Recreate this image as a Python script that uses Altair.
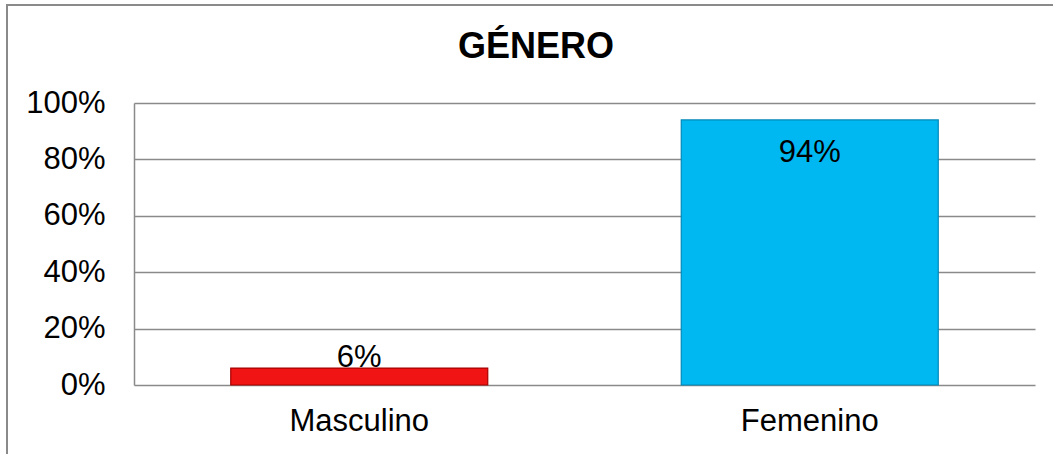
import altair as alt
import pandas as pd

categories = ["Masculino", "Femenino"]
values = [0.06, 0.94]
labels = ["6%", "94%"]
colors = ["#F01414", "#00B8F1"]
strokes = ["#A80000", "#0088B8"]
title_text = "GÉNERO"

df = pd.DataFrame({"cat": categories, "val": values, "lab": labels})

FONT = "Liberation Sans"
W, H = 901, 282

x_enc = alt.X("cat:N", sort=categories,
              scale=alt.Scale(paddingInner=0, paddingOuter=0),
              axis=alt.Axis(title=None, labelAngle=0, domain=False, ticks=False,
                            labelFontSize=31, labelFont=FONT, labelColor="#000000",
                            labelPadding=21, grid=False))
y_enc = alt.Y("val:Q", scale=alt.Scale(domain=[0, 1], nice=False),
              axis=alt.Axis(title=None, format=".0%", values=[0, 0.2, 0.4, 0.6, 0.8, 1.0],
                            ticks=False, domain=True, domainColor="#8a8a8a", domainWidth=1.5,
                            grid=True, gridColor="#8a8a8a", gridWidth=1.5,
                            labelFontSize=31, labelFont=FONT, labelColor="#000000",
                            labelPadding=29))

bars = alt.Chart(df).mark_bar(size=257, strokeWidth=1.2).encode(
    x=x_enc,
    y=y_enc,
    color=alt.Color("cat:N", scale=alt.Scale(domain=categories, range=colors), legend=None),
    stroke=alt.Stroke("cat:N", scale=alt.Scale(domain=categories, range=strokes), legend=None),
)

lab_out = alt.Chart(df).transform_filter(alt.datum.cat == "Masculino").mark_text(
    font=FONT, fontSize=31, color="#000000", baseline="alphabetic", dy=-1
).encode(x=alt.X("cat:N", sort=categories), y="val:Q", text="lab:N")

lab_in = alt.Chart(df).transform_filter(alt.datum.cat == "Femenino").mark_text(
    font=FONT, fontSize=31, color="#000000", baseline="alphabetic", dy=42
).encode(x=alt.X("cat:N", sort=categories), y="val:Q", text="lab:N")

title = alt.Chart(pd.DataFrame({"t": [title_text]})).mark_text(
    font=FONT, fontSize=36, fontWeight="bold", color="#000000", baseline="alphabetic"
).encode(x=alt.value(536 - 134), y=alt.value(58 - 103), text="t:N")

border = alt.Chart(pd.DataFrame({"a": [0]})).mark_rect(
    fill=None, stroke="#8a8a8a", strokeWidth=2
).encode(x=alt.value(7 - 134), y=alt.value(5 - 103),
         x2=alt.value(1053 - 134 + 10), y2=alt.value(454 - 103 + 10))

chart = alt.layer(border, bars, lab_out, lab_in, title).properties(
    width=W, height=H,
    autosize=alt.AutoSizeParams(type="none"),
    padding={"left": 134, "top": 103, "right": 18, "bottom": 69},
    background="#ffffff",
).configure_view(stroke=None)

chart.save("out.html", embed_options={"renderer": "svg", "actions": False})
